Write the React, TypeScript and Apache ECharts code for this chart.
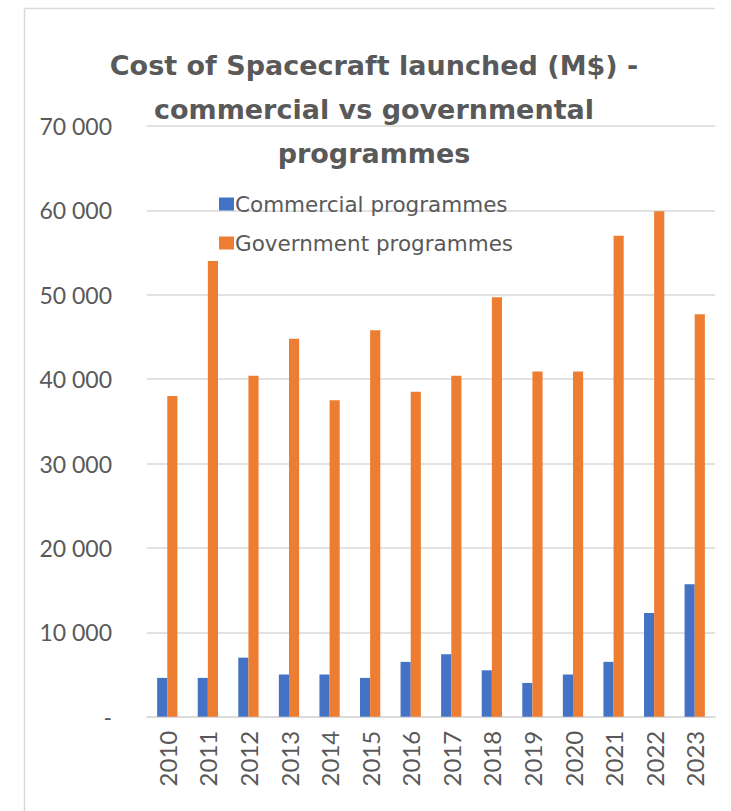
import React, { useEffect, useRef } from "react";
import * as echarts from "echarts";

const years = ["2010", "2011", "2012", "2013", "2014", "2015", "2016", "2017", "2018", "2019", "2020", "2021", "2022", "2023"];
const commercial = [4600, 4600, 7000, 5000, 5000, 4600, 6500, 7400, 5500, 4000, 5000, 6500, 12300, 15700];
const government = [38000, 54000, 40400, 44800, 37500, 45800, 38500, 40400, 49700, 40900, 40900, 57000, 59900, 47700];
const seriesNames = ["Commercial programmes", "Government programmes"];
const titleText = "Cost of Spacecraft launched (M$) -\ncommercial vs governmental\nprogrammes";

const FONT = "Lato, 'Open Sans', sans-serif";
const WIDE = "'DejaVu Sans', 'Open Sans', sans-serif";
const GREY = "#595959";

function fmt(v: number): string {
  if (v === 0) return "-";
  const s = String(Math.round(v));
  return s.replace(/\B(?=(\d{3})+(?!\d))/g, " ");
}

export default function App() {
  const ref = useRef<HTMLDivElement>(null);
  useEffect(() => {
    if (!ref.current) return;
    const chart = echarts.init(ref.current, undefined, { renderer: "svg" });
    chart.setOption({
      animation: false,
      backgroundColor: "#ffffff",
      title: {
        text: titleText,
        left: 369,
        top: 38,
        textAlign: "center",
        textStyle: {
          fontFamily: WIDE,
          fontWeight: "bold",
          fontSize: 27,
          lineHeight: 44,
          color: GREY,
        },
      },
      legend: {
        orient: "vertical",
        left: 214,
        top: 187,
        itemWidth: 15,
        itemHeight: 13,
        itemGap: 15,
        icon: "rect",
        data: seriesNames,
        textStyle: { fontFamily: WIDE, fontSize: 21.5, lineHeight: 24, color: GREY, padding: [0, 0, 0, -4] },
      },
      grid: { left: 147, right: 16, top: 126, bottom: 94.3, containLabel: false },
      xAxis: {
        type: "category",
        data: years,
        axisLine: { lineStyle: { color: "#d9d9d9", width: 1.5 } },
        axisTick: { show: false },
        axisLabel: { rotate: 90, margin: 14, fontFamily: FONT, fontSize: 24, color: GREY },
      },
      yAxis: {
        type: "value",
        min: 0,
        max: 70000,
        interval: 10000,
        axisLine: { show: false },
        axisTick: { show: false },
        splitLine: { lineStyle: { color: "#d9d9d9", width: 1.5 } },
        axisLabel: {
          margin: 35,
          fontFamily: FONT,
          fontSize: 23,
          color: GREY,
          padding: [8, 0, 0, 0],
          formatter: fmt,
        },
      },
      series: [
        { name: seriesNames[0], type: "bar", data: commercial, barWidth: "25%", barGap: "0%", itemStyle: { color: "#4472C4" } },
        { name: seriesNames[1], type: "bar", data: government, barWidth: "25%", barGap: "0%", itemStyle: { color: "#ED7D31" } },
      ],
      graphic: [
        { type: "line", shape: { x1: 24.5, y1: 8.5, x2: 715, y2: 8.5 }, style: { stroke: "#d9d9d9", lineWidth: 1.5 } },
        { type: "line", shape: { x1: 24.5, y1: 8.5, x2: 24.5, y2: 811 }, style: { stroke: "#d9d9d9", lineWidth: 1.5 } },
      ],
    });
    return () => chart.dispose();
  }, []);
  return <div ref={ref} style={{ position: "absolute", left: 0, top: 0, width: 731, height: 811 }} />;
}
